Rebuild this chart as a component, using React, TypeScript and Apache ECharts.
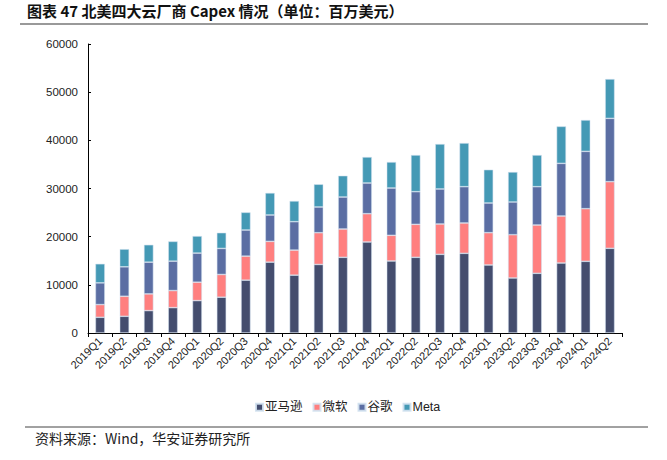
import React, { useEffect, useRef } from "react";
import * as echarts from "echarts";

const categories = [
  "2019Q1", "2019Q2", "2019Q3", "2019Q4",
  "2020Q1", "2020Q2", "2020Q3", "2020Q4",
  "2021Q1", "2021Q2", "2021Q3", "2021Q4",
  "2022Q1", "2022Q2", "2022Q3", "2022Q4",
  "2023Q1", "2023Q2", "2023Q3", "2023Q4",
  "2024Q1", "2024Q2",
];

const amazon = [
  3260, 3470, 4650, 5270, 6730, 7430, 10970, 14710, 12010, 14230, 15710, 18890,
  14950, 15710, 16330, 16540, 14120, 11420, 12390, 14530, 14880, 17580,
];
const microsoft = [
  2640, 4160, 3470, 3540, 3820, 4720, 4990, 4310, 5200, 6590, 5880, 5880,
  5330, 6850, 6300, 6300, 6710, 8990, 10030, 9760, 10930, 13840,
];
const google = [
  4510, 6110, 6590, 6110, 6040, 5410, 5420, 5480, 5900, 5340, 6640, 6370,
  9820, 6780, 7270, 7540, 6160, 6790, 7960, 10930, 11900, 13140,
];
const meta = [
  3960, 3680, 3610, 4100, 3540, 3260, 3670, 4580, 4300, 4720, 4430, 5400,
  5400, 7610, 9340, 9060, 6920, 6220, 6570, 7680, 6510, 8170,
];

const seriesNames = ["亚马逊", "微软", "谷歌", "Meta"];
const colors = ["#444d6e", "#ff7f7f", "#5b6ea3", "#4499b5"];
const yTicks = { min: 0, max: 60000, interval: 10000 };

const titleText = "图表 47 北美四大云厂商 Capex 情况（单位：百万美元）";
const sourceText = "资料来源：Wind，华安证券研究所";

export default function App() {
  const ref = useRef<HTMLDivElement>(null);

  useEffect(() => {
    document.body.style.margin = "0";
    if (!ref.current) return;
    const chart = echarts.init(ref.current, null, { renderer: "svg" });
    const data = [amazon, microsoft, google, meta];
    const font = "'Liberation Sans', Arial, 'Noto Sans CJK SC', sans-serif";
    chart.setOption({
      animation: false,
      color: colors,
      textStyle: { fontFamily: font },
      grid: { left: 88, right: 45, top: 44, bottom: 127, containLabel: false },
      legend: {
        data: seriesNames,
        top: 396,
        left: 250,
        itemWidth: 7,
        itemHeight: 7,
        itemGap: 10,
        icon: "rect",
        textStyle: { fontSize: 12.5, color: "#222", fontFamily: font, padding: [0, 0, 0, -3] },
      },
      xAxis: {
        type: "category",
        data: categories,
        axisLine: { lineStyle: { color: "#000", width: 1 } },
        axisTick: { show: true, inside: false, length: 4, alignWithLabel: false, lineStyle: { color: "#000" } },
        axisLabel: { rotate: 45, fontSize: 11, color: "#222", margin: 6, interval: 0, fontFamily: font },
      },
      yAxis: {
        type: "value",
        min: yTicks.min,
        max: yTicks.max,
        interval: yTicks.interval,
        axisLine: { show: true, lineStyle: { color: "#000", width: 1 } },
        axisTick: { show: true, inside: true, length: 3, lineStyle: { color: "#000" } },
        splitLine: { show: false },
        axisLabel: {
          fontSize: 11.5,
          color: "#222",
          margin: 10,
          fontFamily: font,
          formatter: (v: number) => String(v),
        },
      },
      series: seriesNames.map((name, i) => ({
        name,
        type: "bar",
        stack: "total",
        data: data[i],
        barWidth: "39%",
        itemStyle: { color: colors[i], borderColor: "rgba(210,225,240,0.9)", borderWidth: 0.6 },
      })),
      graphic: [
        {
          type: "text",
          left: 27,
          top: 3,
          style: {
            text: titleText,
            font: "bold 15px 'Noto Sans CJK SC', 'Liberation Sans', sans-serif",
            fill: "#111",
          },
        },
        {
          type: "line",
          shape: { x1: 20, y1: 24, x2: 648, y2: 24 },
          style: { stroke: "#999", lineWidth: 2 },
        },
        {
          type: "line",
          shape: { x1: 25, y1: 427, x2: 648, y2: 427 },
          style: { stroke: "#444", lineWidth: 1 },
        },
        {
          type: "text",
          left: 35,
          top: 431,
          style: {
            text: sourceText,
            font: "14px 'Noto Sans CJK SC', 'Liberation Sans', sans-serif",
            fill: "#222",
          },
        },
      ],
    });
    return () => chart.dispose();
  }, []);

  return <div ref={ref} style={{ width: 667, height: 460 }} />;
}
